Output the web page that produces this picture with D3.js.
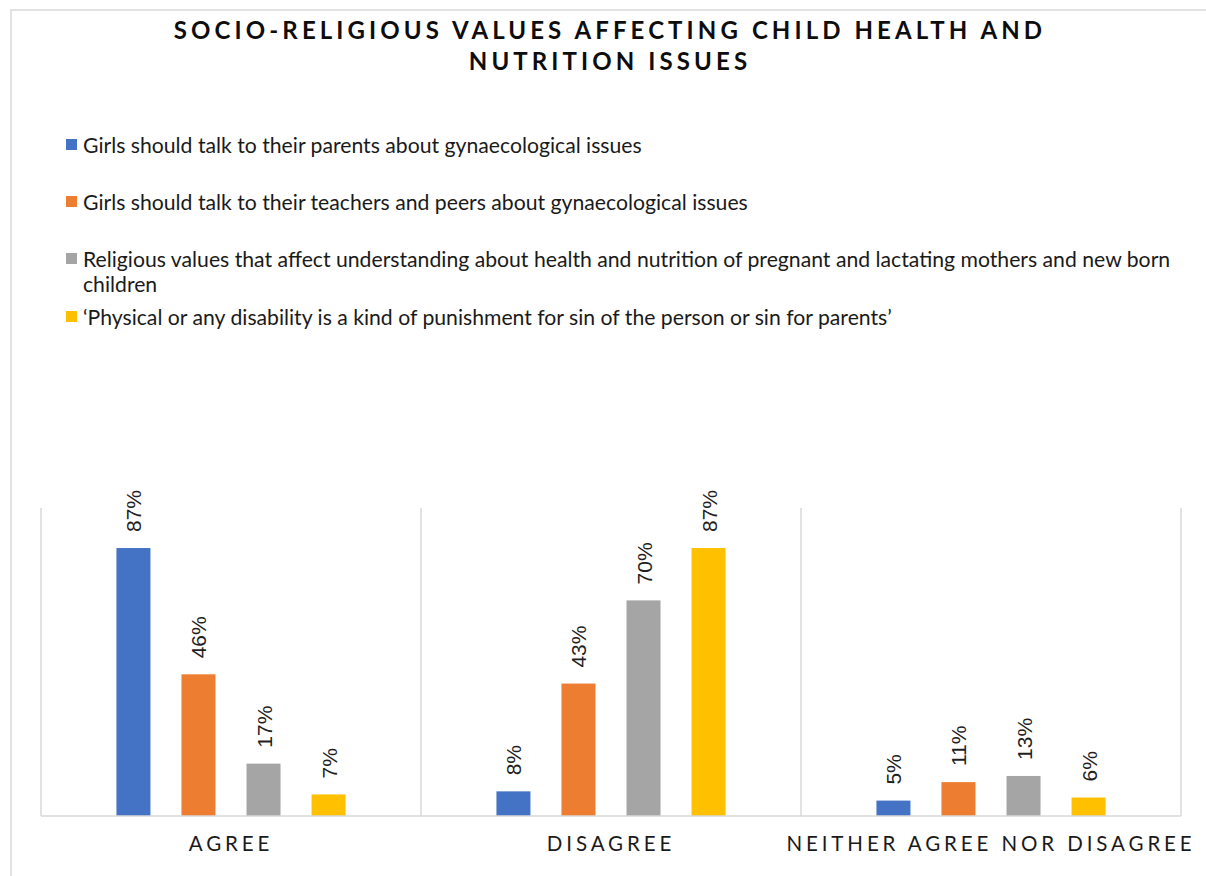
<!DOCTYPE html>
<html>
<head>
<meta charset="utf-8">
<script src="https://cdn.jsdelivr.net/npm/d3@7"></script>
<style>
  html, body { margin: 0; padding: 0; background: #fff; }
  svg { display: block; }
</style>
</head>
<body>
<svg id="chart" width="1206" height="876"></svg>
<script>
// ---- Data ----
const categories = ["AGREE", "DISAGREE", "NEITHER AGREE NOR DISAGREE"];
const seriesNames = [
  "Girls should talk to their parents about gynaecological issues",
  "Girls should talk to their teachers and peers about gynaecological issues",
  "Religious values that affect understanding about health and nutrition of pregnant and lactating mothers and new born children",
  "\u2018Physical or any disability is a kind of punishment for sin of the person or sin for parents\u2019"
];
const parentsValues  = [0.87, 0.08, 0.05];
const teachersValues = [0.46, 0.43, 0.11];
const religiousValues = [0.17, 0.70, 0.13];
const disabilityValues = [0.07, 0.87, 0.06];
const seriesColors = ["#4472C4", "#ED7D31", "#A5A5A5", "#FFC000"];
const titleLines = ["SOCIO-RELIGIOUS VALUES AFFECTING CHILD HEALTH AND", "NUTRITION ISSUES"];

const seriesValues = [parentsValues, teachersValues, religiousValues, disabilityValues];
const data = categories.map((c, ci) => ({
  category: c,
  values: seriesValues.map((vals, si) => ({ series: si, value: vals[ci] }))
}));

// ---- Layout ----
const svg = d3.select("#chart");
const plot = { left: 41, right: 1181, top: 508, bottom: 816 };

// chart frame (cropped on right & bottom)
svg.append("rect")
  .attr("x", 11).attr("y", 10)
  .attr("width", 1220).attr("height", 900)
  .attr("fill", "#fff")
  .attr("stroke", "#d9d9d9").attr("stroke-width", 1.5);

// title
svg.append("g").selectAll("text").data(titleLines).join("text")
  .attr("x", 610)
  .attr("y", (d, i) => 39 + i * 31)
  .attr("text-anchor", "middle")
  .attr("font-family", "Lato")
  .attr("font-weight", "bold")
  .attr("font-size", 24)
  .attr("letter-spacing", 4.1)
  .attr("fill", "#0d0d0d")
  .text(d => d);

// legend
const legend = svg.append("g");
const legendY = [153, 210, 267, 325];
const legendMaxWidth = 1095;
seriesNames.forEach((name, i) => {
  legend.append("rect")
    .attr("x", 66).attr("y", legendY[i] - 14)
    .attr("width", 11).attr("height", 11)
    .attr("fill", seriesColors[i]);
  const t = legend.append("text")
    .attr("x", 83).attr("y", legendY[i])
    .attr("font-family", "Lato")
    .attr("font-size", 21.2)
    .attr("fill", "#1a1a1a");
  // simple word wrap
  const words = name.split(" ");
  let line = [];
  let tspan = t.append("tspan").attr("x", 83).attr("dy", 0);
  for (const w of words) {
    line.push(w);
    tspan.text(line.join(" "));
    if (tspan.node().getComputedTextLength() > legendMaxWidth && line.length > 1) {
      line.pop();
      tspan.text(line.join(" "));
      line = [w];
      tspan = t.append("tspan").attr("x", 83).attr("dy", 25).text(w);
    }
  }
});

// scales
const x0 = d3.scaleBand().domain(categories).range([plot.left, plot.right]).paddingInner(0).paddingOuter(0);
const x1 = d3.scaleBand().domain(d3.range(seriesNames.length))
  .range([0, x0.bandwidth()]).paddingInner(0.477).paddingOuter(1.16);
const y = d3.scaleLinear().domain([0, 1]).range([plot.bottom, plot.top]);

// separators (vertical gridlines at category boundaries)
const bounds = categories.map(c => x0(c)).concat([plot.right]);
svg.append("g").selectAll("line").data(bounds).join("line")
  .attr("x1", d => d).attr("x2", d => d)
  .attr("y1", plot.top).attr("y2", plot.bottom)
  .attr("stroke", "#d9d9d9").attr("stroke-width", 1.5);

// bars
const groups = svg.append("g").selectAll("g").data(data).join("g")
  .attr("transform", d => `translate(${x0(d.category)},0)`);

groups.selectAll("rect").data(d => d.values).join("rect")
  .attr("x", d => x1(d.series))
  .attr("width", x1.bandwidth())
  .attr("y", d => y(d.value))
  .attr("height", d => plot.bottom - y(d.value))
  .attr("fill", d => seriesColors[d.series]);

// data labels (rotated)
groups.selectAll("text").data(d => d.values).join("text")
  .attr("transform", d => `translate(${x1(d.series) + x1.bandwidth() / 2 + 0.5},${y(d.value) - 16}) rotate(-90)`)
  .attr("text-anchor", "start")
  .attr("dominant-baseline", "central")
  .attr("font-family", "Liberation Sans, Arial, sans-serif")
  .attr("font-size", 21)
  .attr("fill", "#1f1f1f")
  .text(d => d3.format(".0%")(d.value));

// baseline axis
svg.append("line")
  .attr("x1", plot.left).attr("x2", plot.right)
  .attr("y1", plot.bottom).attr("y2", plot.bottom)
  .attr("stroke", "#d9d9d9").attr("stroke-width", 1.5);

// category axis labels
const xAxis = d3.axisBottom(x0).tickSize(0).tickPadding(0);
const axisG = svg.append("g")
  .attr("transform", `translate(0,${plot.bottom})`)
  .call(xAxis);
axisG.select(".domain").remove();
axisG.selectAll("text")
  .attr("y", 35)
  .attr("dy", 0)
  .attr("font-family", "Lato")
  .attr("font-size", 20.5)
  .attr("letter-spacing", 3.9)
  .attr("fill", "#1a1a1a");
</script>
</body>
</html>
